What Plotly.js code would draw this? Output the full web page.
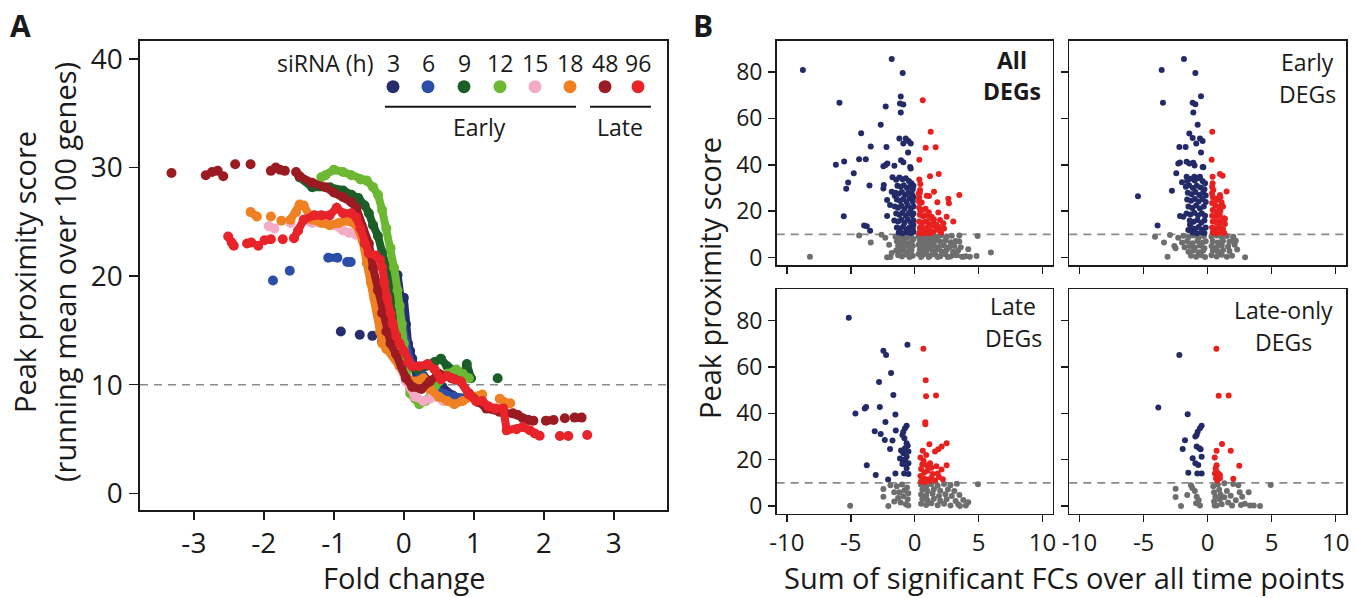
<!DOCTYPE html>
<html><head><meta charset="utf-8">
<script src="https://cdn.plot.ly/plotly-3.0.1.min.js"></script>
<style>html,body{margin:0;padding:0;background:#fff}</style>
</head><body><div id="chart" style="width:1355px;height:598px"></div>
<script>
// ---------- Panel A : running means per siRNA time point ----------
const timeLabels = ['3','6','9','12','15','18','48','96'];
const fc3 = [-0.90,null,-0.63,null,-0.45,null,-0.31,-0.16,-0.09,-0.03,0.0,0.03,0.06,0.09,0.12,0.19,0.28,0.40,0.55,0.70];
const pp3 = [14.9,null,14.6,null,14.5,null,14.0,16.5,20.1,17.3,18.0,15.6,13.8,13.1,12.4,10.6,10.8,10.2,9.8,9.0];
const fc6 = [-1.87,null,-1.63,null,-1.08,-0.95,null,-0.81,-0.76,null,-0.16,-0.05,0.02,0.10,0.25,0.45,0.72,0.90];
const pp6 = [19.6,null,20.5,null,21.7,21.7,null,21.3,21.3,null,20.1,17.0,14.0,12.0,10.8,9.5,8.9,8.8];
const fc9 = [-1.49,-1.31,-1.06,-0.87,-0.75,-0.65,-0.56,-0.50,-0.44,-0.37,-0.31,-0.25,-0.19,-0.12,-0.06,0.0,0.09,0.19,0.31,0.44,0.53,0.62,0.75,0.84,0.90,0.96,null,1.34];
const pp9 = [29.1,28.2,28.2,27.9,27.5,27.2,26.5,25.8,24.7,23.7,22.2,20.8,18.7,16.6,14.5,12.8,11.7,11.4,11.7,12.1,12.4,11.7,11.2,10.6,11.9,10.6,null,10.6];
const fc12 = [-1.49,null,-1.18,-1.12,-1.0,-0.87,-0.75,-0.62,-0.53,-0.44,-0.37,-0.31,-0.25,-0.19,-0.14,-0.09,-0.06,-0.03,0.0,0.03,0.06,0.09,0.16,0.22,0.31,0.40,0.50,0.62,0.75,0.84,0.93];
const pp12 = [29.2,null,29.1,29.3,29.8,29.6,29.3,28.9,28.8,28.2,27.5,26.1,24.4,22.6,20.8,18.7,17.3,15.6,13.8,12.1,10.3,9.2,8.7,8.2,8.5,9.2,10.3,11.0,11.4,11.0,10.6];
const fc15 = [-1.93,-1.85,null,-1.62,null,-1.43,-1.31,-1.15,-1.0,-0.87,-0.78,-0.68,-0.59,-0.53,-0.50,-0.45,-0.40,-0.36,-0.31,-0.25,-0.16,-0.06,0.03,0.16,0.28,0.37,0.47,0.56];
const pp15 = [24.6,24.4,null,24.9,null,25.2,24.9,24.9,24.7,24.2,24.0,23.8,23.7,23.0,21.5,20.1,18.4,16.6,14.9,13.8,12.8,11.7,10.3,8.9,8.5,8.7,8.9,8.5];
const fc18 = [-2.19,-2.10,null,-1.90,null,-1.75,null,-1.62,-1.54,-1.49,-1.43,-1.31,-1.18,-1.06,-0.93,-0.81,-0.68,-0.59,-0.53,-0.47,-0.42,-0.37,-0.34,-0.31,-0.25,-0.16,-0.06,0.03,0.16,0.28,0.37,0.50,0.62,0.72,0.84,0.96,1.12,null,1.37,1.43,1.52];
const pp18 = [25.9,25.5,null,25.5,null,25.1,null,25.2,25.9,26.6,26.5,25.2,24.9,24.7,24.9,25.1,24.7,23.3,21.2,19.4,18.0,16.6,14.9,13.8,13.3,12.8,11.7,10.6,10.3,10.6,9.6,8.9,8.5,8.2,8.5,8.9,9.1,null,8.7,8.4,8.3];
const fc48 = [-3.32,null,-2.83,null,-2.74,null,-2.66,null,-2.58,null,-2.41,null,-2.19,null,-1.90,-1.83,-1.77,-1.70,null,-1.54,-1.49,-1.31,-1.12,-1.0,-0.87,-0.75,-0.68,-0.59,-0.50,-0.44,-0.37,-0.31,-0.25,-0.19,-0.11,-0.03,0.03,0.12,0.25,0.37,0.50,0.68,0.81,0.93,1.06,1.18,1.37,1.56,1.63,1.70,1.78,1.85,null,2.03,2.14,null,2.30,null,2.44,2.54];
const pp48 = [29.5,null,29.3,null,29.6,null,29.7,null,29.2,null,30.3,null,30.3,null,29.7,30.0,29.8,29.7,null,29.6,29.2,28.6,28.2,27.7,27.3,26.8,26.3,24.4,23.0,20.8,18.7,16.6,14.9,13.8,12.8,11.7,10.6,9.8,9.6,10.3,11.0,10.6,10.3,9.2,8.4,7.8,7.5,7.37,7.21,6.91,6.75,6.69,null,6.69,6.75,null,6.91,null,6.97,6.97];
const fc96 = [-2.51,-2.46,-2.43,null,-2.24,-2.18,null,-2.08,null,-1.99,-1.90,null,-1.73,null,-1.57,-1.51,-1.43,-1.28,-1.18,-1.06,-0.96,-0.87,-0.75,-0.68,-0.62,-0.56,-0.50,-0.40,-0.34,-0.31,-0.28,-0.24,-0.19,-0.16,-0.11,-0.06,0.0,0.06,0.12,0.22,0.34,0.44,0.53,0.62,0.72,0.81,0.93,1.03,1.12,1.21,1.31,1.42,1.47,1.61,1.70,1.80,1.87,1.94,null,2.23,null,2.35,null,2.62];
const pp96 = [23.65,23.1,22.8,null,23.0,23.1,null,22.8,null,23.3,23.4,null,23.4,null,23.5,24.2,25.2,25.6,25.6,25.6,26.3,25.8,25.8,25.4,24.4,23.0,22.1,21.9,21.5,20.8,19.4,18.0,16.6,15.6,14.5,13.8,13.1,12.1,11.7,11.7,11.9,11.4,10.5,10.8,10.5,10.3,9.1,8.5,8.5,8.0,7.8,7.8,5.8,5.9,6.1,5.8,5.5,5.3,null,5.28,null,5.28,null,5.37];
const seriesColors = ['#262d6b','#2b4fa6','#1b5e28','#6cb833','#f5abc6','#ef8122','#9a1b22','#e8232a'];
const aTickX = [-3,-2,-1,0,1,2,3];
const aTickXText = ['-3','-2','-1','0','1','2','3'];
const aTickY = [0,10,20,30,40];
const threshold = 10;

// ---------- Panel B : per-gene scatter ----------
const bTickX = [-10,-5,0,5,10];
const bTickXText = ['-10','-5','0','5','10'];
const bTickY = [0,20,40,60,80];
const panelNames = [['All','DEGs'],['Early','DEGs'],['Late','DEGs'],['Late-only','DEGs']];

const allNavyX = [-8.75,-5.89,-1.80,-0.94,-1.09,-1.15,-0.89,-1.09,-2.27,-2.66,-4.19,-3.44,-2.21,-1.20,-0.70,-0.49,-0.31,-0.89,-0.52,-4.35,-3.83,-6.17,-5.52,-4.77,-5.21,-5.36,-3.54,-5.55,-3.96,-3.75,-3.49,-2.42,-2.45,-2.45,-2.27,-2.14,-1.59,-1.07,-0.89,-0.36,-0.31,-1.74,-2.16,-1.93,-2.16,-1.80,-1.56,
 -1.45,-1.2,-0.95,-0.7,-0.45,-0.25,-1.35,-1.1,-0.85,-0.6,-0.35,-0.15,-1.5,-1.25,-1.0,-0.75,-0.5,-0.2,-1.4,-1.15,-0.9,-0.65,-0.4,-0.15,-1.55,-1.3,-1.05,-0.8,-0.55,-0.3,-0.1,-1.45,-1.2,-0.95,-0.7,-0.45,-0.2,-1.6,-1.3,-1.05,-0.8,-0.55,-0.3,-0.1,-1.4,-1.15,-0.9,-0.65,-0.4,-0.15,-1.25,-0.95,-0.6,-0.3,-0.1,-0.1,-0.1,-0.1,-0.1];
const allNavyY = [80.9,66.7,85.6,79.6,69.4,66.4,66.0,62.5,65.1,57.3,53.6,47.9,47.7,51.3,51.3,50.3,49.2,49.2,45.3,42.4,42.4,40.0,41.4,36.4,32.4,29.7,31.1,17.8,13.8,13.5,11.6,31.3,29.8,39.4,39.9,40.6,39.6,42.0,41.1,39.1,38.4,34.6,24.8,22.7,17.9,28.4,26.7,
 33.5,34.5,33.8,34.2,33.0,32.0,31.0,30.5,31.2,30.0,30.8,29.5,28.0,27.5,28.3,27.0,28.0,27.2,25.0,24.5,25.3,24.0,25.5,24.2,22.0,21.5,22.3,21.0,22.5,21.2,22.0,19.0,18.5,19.3,18.0,19.2,18.3,16.0,15.5,16.3,15.0,16.4,15.2,16.0,13.0,12.5,13.3,12.2,13.0,12.4,10.8,10.5,10.9,10.6,11.0,14.0,19.0,26.0,31.0];
const allRedX = [0.63,1.25,0.86,1.64,0.36,1.20,1.88,0.36,0.44,0.42,1.51,1.12,0.94,2.63,2.68,1.77,3.49,0.34,0.55,0.31,1.85,2.5,3.02,1.98,2.24,1.33,1.46,1.72,2.06,
 0.35,0.6,0.85,1.1,0.4,0.65,0.9,1.2,1.5,0.35,0.6,0.85,1.1,1.35,1.7,0.4,0.65,0.9,1.15,1.45,1.75,0.35,0.6,0.85,1.1,1.35,2.05,0.35,0.35,0.4,0.45,0.5,2.3,1.9];
const allRedY = [67.8,54.3,47.3,47.6,42.2,35.1,36.0,33.7,31.7,29.1,28.4,26.5,26.7,25.4,23.4,23.9,27.0,24.8,23.7,27.7,19.4,17.6,15.5,16.2,14.8,17.6,14.8,12.6,11.6,
 21.5,20.5,21.0,19.5,18.5,17.8,18.2,17.0,16.5,15.5,15.0,15.6,14.5,13.8,14.2,12.8,12.2,12.8,11.8,11.2,12.0,10.6,10.4,10.8,10.5,10.7,10.8,24.0,26.0,28.0,20.0,13.5,12.5,13.2];
const allGreyX = [-8.2,-4.35,-3.44,-2.16,5.96,4.92,4.19,4.84,3.49,3.49,3.02,3.80,4.32,
 -1.5,-1.2,-0.9,-0.6,-0.3,-0.1,-1.4,-1.1,-0.8,-0.5,-0.2,-1.3,-1.0,-0.7,-0.4,-0.15,-1.45,-1.15,-0.85,-0.55,-0.25,-1.3,-1.0,-0.7,-0.4,-0.15,-1.9,-2.3,-2.0,-1.8,-2.6,
 0.3,0.6,0.9,1.2,1.5,1.8,2.1,2.5,2.9,0.4,0.7,1.0,1.3,1.6,2.0,2.4,2.8,3.2,0.3,0.6,0.9,1.2,1.5,1.9,2.3,2.7,3.1,3.6,0.4,0.7,1.0,1.4,1.7,2.1,2.5,3.0,3.4,0.3,0.6,0.9,1.2,1.6,2.0,2.4,2.8,3.3,3.7,4.0,0.5,1.1,1.8,2.6];
const allGreyY = [0.4,9.5,6.5,0.1,2.2,9.3,3.6,0.7,9.5,6.9,1.1,0.4,0.4,
 9.0,8.5,9.2,8.7,9.4,8.0,7.0,6.5,7.3,6.2,7.1,5.0,4.5,5.3,4.2,5.0,3.0,2.5,3.3,2.2,3.0,1.0,0.5,1.3,0.3,0.8,0.2,8.5,5.5,2.0,9.8,
 9.2,8.8,9.5,8.6,9.3,8.8,9.6,8.9,9.4,7.5,7.0,7.6,6.8,7.3,6.8,7.5,6.6,7.2,5.5,5.0,5.6,4.8,5.4,4.6,5.2,4.5,5.0,4.5,3.5,3.0,3.6,2.8,3.4,2.6,3.3,2.5,3.0,1.5,1.0,1.6,0.8,1.3,0.6,1.4,0.5,1.0,0.4,0.6,0.2,0.2,0.2,0.2];

const earlyNavyX = [-1.85,-3.59,-0.96,-0.52,-3.49,-1.17,-0.96,-1.12,-0.78,-1.43,-1.17,-0.60,-0.39,-2.21,-1.72,-0.89,-0.52,-2.29,-2.16,-1.64,-1.43,-1.12,-1.02,-0.39,-0.34,-2.45,-2.0,-1.64,-1.04,-0.60,-2.79,-5.44,-3.91,-2.16,-1.90,-1.51,-1.38,
 -1.6,-1.3,-1.0,-0.7,-0.4,-0.2,-1.7,-1.45,-1.15,-0.85,-0.55,-0.25,-1.55,-1.25,-0.95,-0.65,-0.35,-0.15,-1.6,-1.3,-1.0,-0.7,-0.4,-0.15,-1.5,-1.2,-0.9,-0.6,-0.3,-1.65,-1.35,-1.05,-0.75,-0.45,-0.2,-1.4,-1.1,-0.8,-0.5,-0.25,-1.3,-1.0,-0.7,-0.4,-0.15,-1.2,-0.85,-0.5,-0.25];
const earlyNavyY = [85.6,80.9,79.6,69.5,66.7,66.7,66.1,62.5,57.3,53.5,51.5,51.3,50.3,47.7,47.7,49.2,45.3,40.6,41.0,41.3,40.6,40.9,39.7,39.1,38.9,36.4,32.5,34.8,34.8,34.8,28.8,26.4,13.8,17.9,17.6,11.9,14.1,
 33.0,34.0,33.2,34.3,33.0,32.0,30.5,31.2,30.0,31.0,30.2,29.5,28.0,27.3,28.3,27.0,28.1,26.8,25.0,24.5,25.3,24.2,25.2,24.0,22.0,21.4,22.4,21.2,22.0,19.0,18.6,19.3,18.2,19.0,18.0,16.0,15.4,16.2,15.0,16.0,13.0,12.4,13.2,12.0,13.0,10.8,10.5,10.9,10.6];
const earlyRedX = [0.36,0.31,0.39,0.96,1.17,0.39,0.44,1.48,0.96,1.09,0.70,0.34,1.35,0.96,1.35,
 0.35,0.4,0.7,1.0,0.35,0.6,0.9,1.2,0.4,0.7,1.0,0.35,0.65,0.95,1.3,0.4,0.7,1.0,0.35,0.6,0.9,1.2,0.4,0.7,1.0,1.3];
const earlyRedY = [54.3,42.2,34.8,36.0,35.3,32.0,29.1,28.5,27.0,23.7,24.8,27.7,16.6,14.8,14.5,
 30.5,26.0,25.5,26.0,23.5,22.5,21.8,22.0,20.5,19.8,20.2,18.0,17.5,18.3,17.0,15.5,15.0,15.8,13.0,12.5,13.0,12.3,10.8,10.5,10.9,10.6];
const earlyGreyX = [-3.13,2.92,-4.11,-3.41,-2.94,2.0,2.14,-2.6,-2.5,
 -2.3,-1.9,-1.5,-1.1,-0.7,-0.3,-2.0,-1.6,-1.2,-0.8,-0.4,-0.15,-1.8,-1.4,-1.0,-0.6,-0.25,-1.5,-1.1,-0.7,-0.35,-1.3,-0.9,-0.5,-0.2,
 0.3,0.7,1.1,1.5,2.0,0.4,0.8,1.2,1.7,2.2,0.3,0.7,1.1,1.6,2.1,0.4,0.8,1.2,1.7,2.3,0.3,0.7,1.1,1.5,1.9];
const earlyGreyY = [0.4,0.1,9.0,6.5,9.7,9.0,6.9,5.0,4.0,
 8.5,9.4,8.8,9.5,8.6,9.3,6.5,7.0,6.2,7.2,6.4,7.0,4.5,5.0,4.3,5.2,4.0,2.5,3.0,2.3,3.1,0.8,0.4,1.0,0.3,
 9.0,9.5,8.8,9.3,8.5,7.0,6.5,7.2,6.8,7.3,5.0,4.5,5.3,4.8,5.5,3.0,2.5,3.3,2.8,3.5,1.0,0.5,1.2,0.4,0.8];

const lateNavyX = [-5.16,-0.57,-2.45,-2.24,-1.85,-2.79,-1.67,-4.64,-3.91,-3.80,-2.73,-1.51,-2.29,-3.13,-2.66,-2.34,-1.74,-1.48,-1.93,-1.15,-0.94,-0.70,-3.75,-3.05,-2.08,-1.51,-0.83,-0.49,
 -0.63,-0.76,-0.89,-0.96,-0.81,-0.63,-0.76,-0.49,-0.63,-0.89,-0.76,-0.49,-0.96,-0.63,-0.55,-1.07];
const lateNavyY = [81.2,69.6,67.0,65.2,57.4,53.5,47.9,39.9,42.1,42.7,42.7,39.5,36.3,32.3,31.1,28.5,28.3,32.6,24.6,20.5,19.9,18.2,17.6,13.4,11.5,14.1,14.1,13.8,
 34.7,33.6,32.1,30.7,29.3,27.1,24.9,23.5,21.3,22.8,19.9,18.5,18.2,16.3,26.0,24.0];
const lateRedX = [0.68,0.86,0.89,1.67,0.83,0.83,1.15,0.63,1.59,1.85,2.11,2.50,2.50,
 0.45,0.7,0.95,1.3,1.7,2.1,0.5,0.75,1.0,1.4,1.8,0.45,0.7,1.0,1.3,1.6,1.9,0.5,0.8,1.15,2.2,0.6,1.2,0.9];
const lateRedY = [67.9,54.3,47.4,47.7,36.2,35.3,26.7,23.9,23.5,24.5,25.7,27.1,17.6,
 21.0,19.5,17.5,16.5,17.2,15.8,16.0,14.5,15.2,13.8,14.0,13.0,12.0,11.5,12.2,11.0,12.5,10.6,10.4,10.8,11.6,18.0,18.5,22.0];
const lateGreyX = [-5.05,-2.45,-2.45,-2.06,4.95,4.19,3.54,-1.9,-1.6,
 -1.4,-1.0,-0.6,-1.2,-0.8,-0.5,-1.3,-0.9,-0.55,-1.1,-0.7,-0.5,-1.6,
 0.5,0.9,1.3,1.8,2.3,2.8,3.3,0.6,1.0,1.5,2.0,2.6,3.1,0.5,0.9,1.4,1.9,2.4,2.9,3.5,0.6,1.0,1.5,2.0,2.5,3.2,3.8,0.5,0.9,1.3,1.8,2.3,2.8,3.4,4.0];
const lateGreyY = [0.1,7.4,4.0,0.0,9.4,1.6,0.0,9.0,6.0,
 8.5,9.3,8.0,6.0,6.8,5.5,3.5,4.2,3.0,1.5,0.8,0.2,2.0,
 9.2,8.6,9.4,8.8,9.5,9.0,9.6,7.0,6.5,7.3,6.6,7.2,6.5,5.0,4.5,5.3,4.4,5.1,4.3,4.8,3.0,2.5,3.2,2.3,3.0,2.2,2.6,1.0,0.5,1.2,0.4,1.0,0.3,0.8,0.3];

const lateOnlyNavyX = [-2.21,-3.85,-1.56,-0.47,-0.60,-0.78,-0.86,-0.96,-1.77,-1.95,-0.86,-0.65,-0.55,-1.17,-0.96,-0.73,-0.47,-1.51,-0.81,-0.47];
const lateOnlyNavyY = [65.2,42.5,39.6,34.6,33.6,32.1,30.7,30.0,28.4,24.6,25.7,24.9,24.5,20.6,18.5,17.7,21.3,14.4,14.1,14.1];
const lateOnlyRedX = [0.68,0.86,1.64,1.12,0.70,1.80,0.55,2.47,0.70,0.62,0.70,0.57,0.83,0.96,0.65,0.96,0.76,2.0];
const lateOnlyRedY = [67.9,47.6,47.7,26.8,23.9,23.9,20.9,17.4,17.6,16.2,14.8,14.1,14.1,13.4,12.0,12.0,11.0,11.8];
const lateOnlyGreyX = [-2.5,-2.5,-2.08,-1.59,-1.2,-1.0,-0.85,-0.7,-0.6,-1.3,-0.9,0.44,0.5,0.6,0.5,0.55,0.8,0.9,1.0,0.95,1.1,1.3,1.5,1.6,1.8,2.0,2.2,2.5,2.7,2.9,3.2,3.3,3.6,4.09,4.92,1.9,2.4,1.3,0.7,2.6];
const lateOnlyGreyY = [7.5,3.9,0.0,4.8,7.8,6.5,4.0,2.5,0.3,9.0,1.2,8.6,6.0,4.0,2.0,0.3,9.3,7.0,5.0,2.8,0.8,3.8,6.5,1.5,4.5,9.5,2.5,6.0,4.0,1.0,6.0,0.3,0.2,0.0,9.1,0.3,9.0,9.8,0.2,0.5];

// ---------- build ----------
const W = 1355, H = 598;
const FONT = '"Open Sans", "Noto Sans", sans-serif';
const INK = '#1a1a1a';
const px = x => x / W, py = y => 1 - y / H;

const aX = [fc3,fc6,fc9,fc12,fc15,fc18,fc48,fc96];
const aY = [pp3,pp6,pp9,pp12,pp15,pp18,pp48,pp96];
const traces = [];
aX.forEach((xs, i) => {
  traces.push({type:'scatter', mode:'lines+markers', x:xs, y:aY[i], xaxis:'x', yaxis:'y',
    connectgaps:false, line:{color:seriesColors[i], width:8},
    marker:{color:seriesColors[i], size:10}, name:timeLabels[i] + ' h', hoverinfo:'x+y+name'});
});

const NAVY = '#232a68', RED = '#e8211f', GREY = '#6e6e6e';
const bPanels = [
  [allGreyX, allGreyY, allNavyX, allNavyY, allRedX, allRedY],
  [earlyGreyX, earlyGreyY, earlyNavyX, earlyNavyY, earlyRedX, earlyRedY],
  [lateGreyX, lateGreyY, lateNavyX, lateNavyY, lateRedX, lateRedY],
  [lateOnlyGreyX, lateOnlyGreyY, lateOnlyNavyX, lateOnlyNavyY, lateOnlyRedX, lateOnlyRedY]
];
bPanels.forEach((p, k) => {
  const xa = 'x' + (k + 2), ya = 'y' + (k + 2);
  [[p[0], p[1], GREY], [p[2], p[3], NAVY], [p[4], p[5], RED]].forEach(s => {
    traces.push({type:'scatter', mode:'markers', x:s[0], y:s[1], xaxis:xa, yaxis:ya,
      marker:{color:s[2], size:6}, hoverinfo:'x+y'});
  });
});

const axBase = {showgrid:false, zeroline:false, showline:true, mirror:true, linecolor:INK, linewidth:1.6,
  ticks:'outside', tickcolor:INK, tickwidth:1.4, fixedrange:true};

const layout = {
  width:W, height:H, margin:{l:0, r:0, t:0, b:0}, showlegend:false,
  paper_bgcolor:'#ffffff', plot_bgcolor:'#ffffff',
  font:{family:FONT, color:INK},
  xaxis: Object.assign({}, axBase, {domain:[px(140), px(667)], anchor:'y', range:[-3.77, 3.76],
    tickvals:aTickX, ticktext:aTickXText, ticklen:8, tickfont:{family:FONT, size:28, color:INK}, ticklabelstandoff:0}),
  yaxis: Object.assign({}, axBase, {domain:[py(510), py(41)], anchor:'x', range:[-1.54, 41.66],
    tickvals:aTickY, ticklen:9, tickfont:{family:FONT, size:28, color:INK}, ticklabelstandoff:1})
};
const bXdom = [[776.7, 1052.7], [1069.3, 1346], [776.7, 1052.7], [1069.3, 1346]];
const bYdom = [[265, 40.7], [265, 40.7], [513.5, 289.3], [513.5, 289.3]];
for (let k = 0; k < 4; k++) {
  const n = k + 2;
  layout['xaxis' + n] = Object.assign({}, axBase, {domain:[px(bXdom[k][0]), px(bXdom[k][1])], anchor:'y' + n,
    range:[-10.8, 10.8], tickvals:bTickX, ticktext:bTickXText, ticklen:7, tickfont:{family:FONT, size:24, color:INK},
    showticklabels:k >= 2, ticklabelstandoff:0});
  layout['yaxis' + n] = Object.assign({}, axBase, {domain:[py(bYdom[k][0]), py(bYdom[k][1])], anchor:'x' + n,
    range:[-3.2, 93.5], tickvals:bTickY, ticklen:7, tickfont:{family:FONT, size:23, color:INK},
    showticklabels:k % 2 === 0, ticklabelstandoff:1});
}

// threshold lines
const shapes = [];
['x', 'x2', 'x3', 'x4', 'x5'].forEach((xa, i) => {
  const ya = i === 0 ? 'y' : 'y' + (i + 1);
  shapes.push({type:'line', xref:xa + ' domain', yref:ya, x0:0, x1:1, y0:threshold, y1:threshold,
    line:{color:'#8a8a8a', width:1.6, dash:'8px,6px'}, layer:'below'});
});
// legend dots and brackets (panel A)
const legX = [393, 428, 464, 500, 535, 570, 605, 638];
legX.forEach((cx, i) => {
  shapes.push({type:'circle', xref:'paper', yref:'paper', x0:px(cx - 6.5), x1:px(cx + 6.5),
    y0:py(86.7 + 6.5), y1:py(86.7 - 6.5), fillcolor:seriesColors[i], line:{width:0}});
});
shapes.push({type:'line', xref:'paper', yref:'paper', x0:px(385), x1:px(576), y0:py(106.7), y1:py(106.7), line:{color:INK, width:2}});
shapes.push({type:'line', xref:'paper', yref:'paper', x0:px(590), x1:px(651), y0:py(106.7), y1:py(106.7), line:{color:INK, width:2}});
layout.shapes = shapes;

const ann = (text, x, y, size, extra) => Object.assign({text:text, xref:'paper', yref:'paper', x:px(x), y:py(y),
  xanchor:'center', yanchor:'middle', showarrow:false, font:{size:size, family:FONT, color:INK}}, extra || {});
const annotations = [
  ann('<b>A</b>', 20, 25.5, 30),
  ann('<b>B</b>', 703, 25.5, 30),
  ann('Fold change', 404, 577, 29),
  ann('Sum of significant FCs over all time points', 1064, 577, 29),
  ann('Peak proximity score', 25, 272, 29, {textangle:-90}),
  ann('(running mean over 100 genes)', 65, 272, 29, {textangle:-90}),
  ann('Peak proximity score', 709, 278, 29, {textangle:-90}),
  ann('siRNA (h)', 325, 63, 23),
  ann('Early', 480, 127, 23),
  ann('Late', 620, 127, 23)
];
legX.forEach((cx, i) => annotations.push(ann(timeLabels[i], cx, 63, 23)));
const pLab = [[1011.7, 60, 1011.7, 91.3, true], [1307, 62.3, 1307, 94, false], [1013, 305.6, 1013.8, 338.3, false], [1283.5, 309.6, 1283.8, 342.3, false]];
pLab.forEach((p, k) => {
  const b = p[4];
  annotations.push(ann(b ? '<b>' + panelNames[k][0] + '</b>' : panelNames[k][0], p[0], p[1], 23));
  annotations.push(ann(b ? '<b>' + panelNames[k][1] + '</b>' : panelNames[k][1], p[2], p[3], 23));
});
layout.annotations = annotations;

Plotly.newPlot('chart', traces, layout, {displayModeBar:false, staticPlot:true});
</script>
</body></html>
